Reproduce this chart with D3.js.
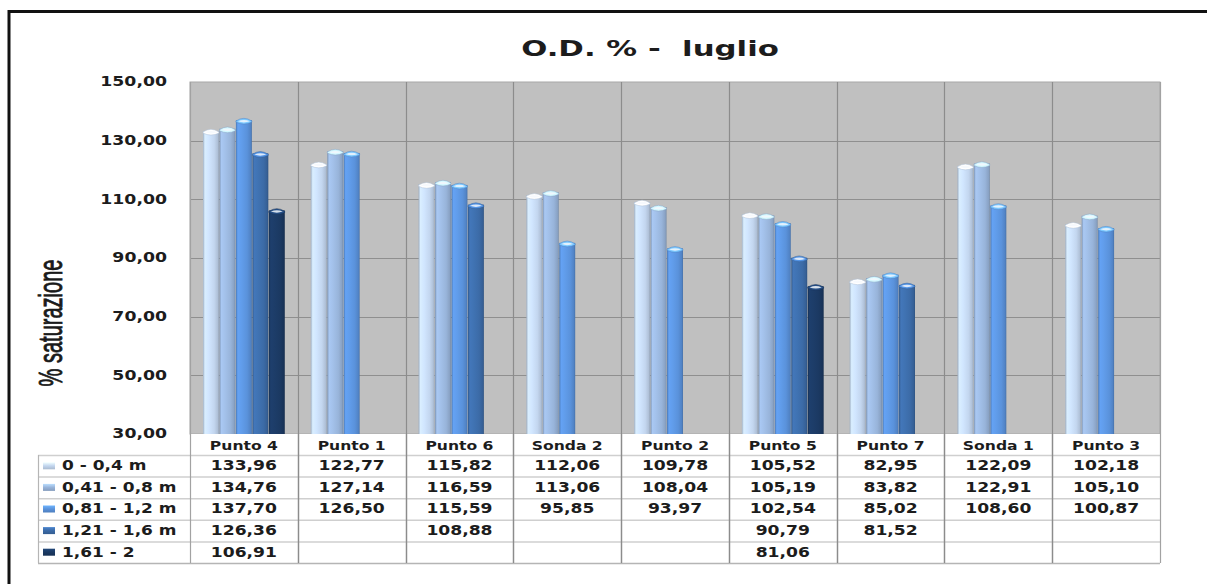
<!DOCTYPE html>
<html>
<head>
<meta charset="utf-8">
<script src="https://cdn.jsdelivr.net/npm/d3@7"></script>
<style>
  html, body { margin: 0; padding: 0; background: #ffffff; }
  svg { display: block; }
  text { font-family: "DejaVu Sans", Verdana, sans-serif; font-weight: bold; fill: #1c1c1c; }
</style>
</head>
<body>
<svg id="chart" width="1207" height="584"></svg>
<script>
// Dissolved oxygen (% saturation), July, by station and depth band
const categories = ["Punto 4", "Punto 1", "Punto 6", "Sonda 2", "Punto 2", "Punto 5", "Punto 7", "Sonda 1", "Punto 3"];
const seriesNames = ["0 - 0,4 m", "0,41 - 0,8 m", "0,81 - 1,2 m", "1,21 - 1,6 m", "1,61 - 2"];
const depth0to04   = [133.96, 122.77, 115.82, 112.06, 109.78, 105.52, 82.95, 122.09, 102.18];
const depth041to08 = [134.76, 127.14, 116.59, 113.06, 108.04, 105.19, 83.82, 122.91, 105.10];
const depth081to12 = [137.70, 126.50, 115.59, 95.85, 93.97, 102.54, 85.02, 108.60, 100.87];
const depth121to16 = [126.36, null, 108.88, null, null, 90.79, 81.52, null, null];
const depth161to2  = [106.91, null, null, null, null, 81.06, null, null, null];
const yTicks = [30, 50, 70, 90, 110, 130, 150];
const titleText = "O.D. % -  luglio";
const yLabel = "% saturazione";

const seriesValues = [depth0to04, depth041to08, depth081to12, depth121to16, depth161to2];
const seriesColors = ["#c3d6ef", "#98b4da", "#5a92db", "#3c6ba7", "#1b3962"];

const fmt = d3.formatLocale({ decimal: ",", thousands: ".", grouping: [3], currency: ["", " €"] }).format(".2f");

const svg = d3.select("#chart");
const plot = { left: 190, right: 1160, top: 82, bottom: 434 };
const table = { left: 38, headerTop: 434, rowsTop: 455, bottom: 563 };
const SX = 1.28; // horizontal stretch of the lettering

const x0 = d3.scaleBand().domain(categories).range([plot.left, plot.right]).padding(0);
const x1 = d3.scaleBand().domain(seriesNames)
  .range([13, x0.bandwidth() - 13]).paddingInner(0.03).paddingOuter(0);
const y = d3.scaleLinear().domain([30, 150]).range([plot.bottom, plot.top]);
const rowY = d3.scaleBand().domain(seriesNames).range([table.rowsTop, table.bottom]).padding(0);

function stretchedText(g, x, yy, str, size, anchor, sx) {
  return g.append("text")
    .attr("transform", `translate(${x},${yy}) scale(${sx || SX},1)`)
    .attr("text-anchor", anchor)
    .attr("dominant-baseline", "central")
    .style("font-size", size + "px")
    .style("white-space", "pre")
    .text(str);
}

// gradients giving the rounded, lit look of each bar
const defs = svg.append("defs");
seriesColors.forEach((c, i) => {
  const base = d3.color(c);
  const g = defs.append("linearGradient").attr("id", "bar" + i)
    .attr("x1", "0%").attr("x2", "100%").attr("y1", "0%").attr("y2", "0%");
  [[0, base.darker(0.55)], [0.12, base.brighter(0.3)], [0.35, base.brighter(0.2)],
   [0.7, base], [0.92, base.darker(0.3)], [1, base.darker(0.75)]]
    .forEach(([o, col]) => g.append("stop").attr("offset", o).attr("stop-color", col));
  const k = defs.append("linearGradient").attr("id", "key" + i)
    .attr("x1", "0%").attr("x2", "0%").attr("y1", "0%").attr("y2", "100%");
  [[0, base.brighter(0.6)], [0.5, base], [1, base.darker(0.4)]]
    .forEach(([o, col]) => k.append("stop").attr("offset", o).attr("stop-color", col));
});

// outer frame
svg.append("line").attr("x1", 9).attr("x2", 1207).attr("y1", 11.5).attr("y2", 11.5)
  .attr("stroke", "#111").attr("stroke-width", 3);
svg.append("line").attr("x1", 9).attr("x2", 9).attr("y1", 10).attr("y2", 584)
  .attr("stroke", "#111").attr("stroke-width", 3);

// plot area
svg.append("rect").attr("x", plot.left).attr("y", plot.top)
  .attr("width", plot.right - plot.left).attr("height", plot.bottom - plot.top)
  .attr("fill", "#c0c0c0").attr("stroke", "#a8a8a8").attr("stroke-width", 1);

// horizontal gridlines
svg.append("g").selectAll("line").data(yTicks.filter(t => t > 30 && t < 150)).join("line")
  .attr("x1", plot.left).attr("x2", plot.right)
  .attr("y1", d => Math.round(y(d)) + 0.5).attr("y2", d => Math.round(y(d)) + 0.5)
  .attr("stroke", "#8f8f8f").attr("stroke-width", 1);

// y tick labels
const yAxisG = svg.append("g");
yTicks.forEach(t => stretchedText(yAxisG, 167, y(t), fmt(t), 13.5, "end"));

// y axis title
svg.append("text")
  .attr("transform", `translate(62,323) scale(1.45,1) rotate(-90)`)
  .attr("text-anchor", "middle")
  .attr("textLength", 127).attr("lengthAdjust", "spacingAndGlyphs")
  .style("font-family", "'Liberation Sans Narrow', 'Liberation Sans', sans-serif")
  .style("font-weight", "normal")
  .style("font-size", "23px")
  .style("fill", "#1a1a1a")
  .style("stroke", "#1a1a1a").style("stroke-width", 0.6)
  .text(yLabel);

// title
stretchedText(svg, 650, 48, titleText, 22, "middle", 1.4);

// bars
const barsG = svg.append("g");
categories.forEach((cat, ci) => {
  seriesNames.forEach((s, si) => {
    const v = seriesValues[si][ci];
    if (v == null) return;
    const bx = x0(cat) + x1(s);
    const bw = x1.bandwidth();
    const top = y(v);
    const base = d3.color(seriesColors[si]);
    barsG.append("rect")
      .attr("x", bx).attr("y", top + 2)
      .attr("width", bw).attr("height", plot.bottom - top - 2)
      .attr("fill", `url(#bar${si})`);
    // rounded cap on top of the bar
    barsG.append("path")
      .attr("d", `M${bx},${top + 3} Q${bx + bw / 2},${top - 2.5} ${bx + bw},${top + 3} L${bx + bw},${top + 4} Q${bx + bw / 2},${top + 8} ${bx},${top + 4} Z`)
      .attr("fill", base.brighter(0.9))
      .attr("stroke", base.darker(0.3)).attr("stroke-width", 0.5);
    barsG.append("path")
      .attr("d", `M${bx + 2},${top + 3.2} Q${bx + bw / 2},${top + 0.5} ${bx + bw - 2},${top + 3.2} Q${bx + bw / 2},${top + 5.5} ${bx + 2},${top + 3.2} Z`)
      .attr("fill", "#f4f8fd").attr("opacity", 0.85);
  });
});

// data table
const tableG = svg.append("g");
tableG.append("rect").attr("x", plot.left).attr("y", table.headerTop)
  .attr("width", plot.right - plot.left).attr("height", table.bottom - table.headerTop)
  .attr("fill", "#ffffff");
tableG.append("rect").attr("x", table.left).attr("y", table.rowsTop)
  .attr("width", plot.left - table.left).attr("height", table.bottom - table.rowsTop)
  .attr("fill", "#ffffff");

// row separators
seriesNames.forEach(s => {
  tableG.append("line").attr("x1", table.left).attr("x2", plot.right)
    .attr("y1", rowY(s) + 0.5).attr("y2", rowY(s) + 0.5)
    .attr("stroke", "#cfcfcf").attr("stroke-width", 1.5);
});
tableG.append("line").attr("x1", table.left).attr("x2", plot.right)
  .attr("y1", table.bottom + 0.5).attr("y2", table.bottom + 0.5)
  .attr("stroke", "#b5b5b5").attr("stroke-width", 1.5);

// vertical category separators (through plot and table)
const seps = categories.map(c => x0(c)).concat([plot.right]);
seps.forEach((sx, i) => {
  const inner = i > 0 && i < categories.length;
  svg.append("line").attr("x1", Math.round(sx) + 0.5).attr("x2", Math.round(sx) + 0.5)
    .attr("y1", plot.top).attr("y2", table.bottom)
    .attr("stroke", inner ? "#8c8c8c" : "#a2a2a2").attr("stroke-width", 1.2);
});
tableG.append("line").attr("x1", table.left + 0.5).attr("x2", table.left + 0.5)
  .attr("y1", table.rowsTop).attr("y2", table.bottom)
  .attr("stroke", "#b5b5b5").attr("stroke-width", 1.2);
// lighter lines across the table part
categories.forEach((c, i) => {
  if (i === 0) return;
  tableG.append("line").attr("x1", Math.round(x0(c)) + 0.5).attr("x2", Math.round(x0(c)) + 0.5)
    .attr("y1", table.headerTop).attr("y2", table.bottom)
    .attr("stroke", "#a9a9a9").attr("stroke-width", 1.4);
});

// header labels
categories.forEach(c => stretchedText(tableG, x0(c) + x0.bandwidth() / 2, 445, c, 13, "middle", 1.2));

// legend keys and row labels
seriesNames.forEach((s, si) => {
  const cy = rowY(s) + rowY.bandwidth() / 2;
  tableG.append("rect").attr("x", 43).attr("y", cy - 3.5).attr("width", 12).attr("height", 7)
    .attr("fill", `url(#key${si})`);
  stretchedText(tableG, 62, cy, s, 13.5, "start", 1.26);
  categories.forEach((c, ci) => {
    const v = seriesValues[si][ci];
    if (v == null) return;
    stretchedText(tableG, x0(c) + x0.bandwidth() / 2, cy, fmt(v), 13.5, "middle", 1.27);
  });
});
</script>
</body>
</html>
